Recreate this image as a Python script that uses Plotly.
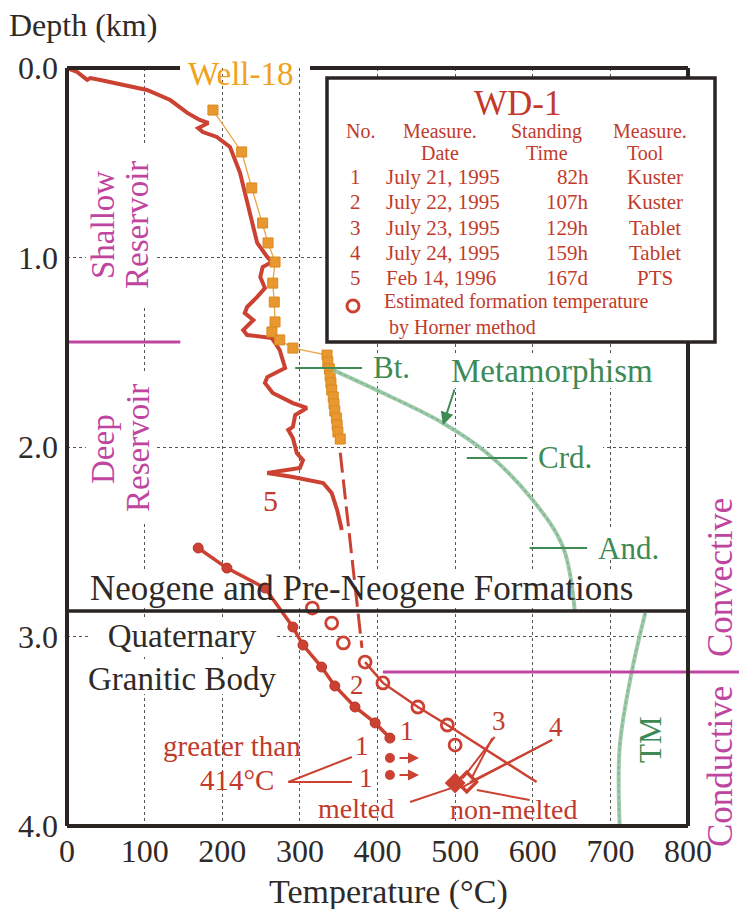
import plotly.graph_objects as go

# ---------------- data ----------------
# WD-1 curve No.5 (PTS, Feb 14 1996): temperature (deg C) vs depth (km)
pts5_temp = [0, 13, 26, 30, 43, 77, 103, 133, 155, 171, 182, 169, 175, 193, 210, 223, 232, 240, 245, 258,
             264, 252, 249, 255, 245, 232, 229, 240, 227, 232, 264, 274, 278, 281, 258, 255, 265, 291, 309, 294,
             291, 285, 291, 296, 304, 300, 258, 291, 330, 341, 348, 354]
pts5_depth = [0, .021, .063, .053, .063, .090, .116, .169, .237, .274, .290, .317, .338, .364, .417, .554, .697, .839, .923, .997,
              1.024, 1.050, 1.103, 1.161, 1.208, 1.261, 1.293, 1.330, 1.383, 1.409, 1.425, 1.488, 1.541, 1.583, 1.631, 1.662, 1.715, 1.768, 1.794, 1.831,
              1.894, 1.910, 1.953, 2.032, 2.069, 2.111, 2.137, 2.158, 2.190, 2.243, 2.332, 2.438]

# Well-18 profile
well18_temp = [188, 225, 238, 252, 259, 268, 265, 267, 268, 264, 274, 291, 335, 336, 338, 339, 340, 341, 343, 344,
               345, 347, 348, 349, 352]
well18_depth = [.222, .443, .633, .818, .923, 1.024, 1.135, 1.235, 1.340, 1.393, 1.435, 1.478, 1.515, 1.551, 1.588,
                1.625, 1.662, 1.699, 1.736, 1.773, 1.810, 1.847, 1.884, 1.921, 1.958]

# dashed extrapolation below No.5
trend_temp = [352, 380]
trend_depth = [2.03, 3.06]

# measurements No.1/No.2 (Kuster) with filled circles
meas_temp = [169, 206, 255, 291, 304, 328, 345, 371, 397, 416]
meas_depth = [2.533, 2.639, 2.744, 2.950, 3.045, 3.161, 3.261, 3.372, 3.456, 3.536]
gt_temp = [416, 416]            # "greater than 414 C"
gt_depth = [3.641, 3.731]

# Horner estimated formation temperatures (open circles)
horner_temp = [316, 341, 356, 384, 407, 452, 490, 500]
horner_depth = [2.850, 2.929, 3.034, 3.135, 3.245, 3.372, 3.467, 3.573]
hline_temp = [384, 407, 452, 490, 605]
hline_depth = [3.135, 3.245, 3.372, 3.467, 3.768]

# Tablet results No.3/No.4 (melted / non-melted)
melted_temp, melted_depth = [500], [3.773]
nonmelted_temp, nonmelted_depth = [515], [3.768]

# leader lines of the labels
leader_temp = [285, 367, None, 285, 367, None, 442, 496, None, 528, 596, None,
               551, 510, None, 548, 522, None, 625, 510, None, 625, 519]
leader_depth = [3.768, 3.636, None, 3.768, 3.768, None, 3.873, 3.799, None, 3.810, 3.863, None,
                3.530, 3.747, None, 3.536, 3.741, None, 3.546, 3.794, None, 3.546, 3.768]

# metamorphism curve and TM curve
meta_temp = [343, 407, 484, 541, 600, 639, 654]
meta_depth = [1.594, 1.715, 1.873, 2.032, 2.280, 2.528, 2.860]
tm_temp = [745, 728, 712, 712]
tm_depth = [2.876, 3.177, 3.583, 4.0]

# mineral isograds
iso_labels = ["Bt.", "Crd.", "And."]
iso_depth = [1.583, 2.058, 2.533]
iso_t0 = [294, 515, 596]
iso_t1 = [380, 593, 670]

# boundaries (depth km)
reservoir_boundary = 1.446
formation_boundary = 2.866
conduct_boundary = 3.187

x_ticks = [0, 100, 200, 300, 400, 500, 600, 700, 800]
y_ticks = [0, 1, 2, 3, 4]
y_ticktext = ["0.0", "1.0", "2.0", "3.0", "4.0"]

legend_rows = [["1", "July 21, 1995", "82h", "Kuster"],
               ["2", "July 22, 1995", "107h", "Kuster"],
               ["3", "July 23, 1995", "129h", "Tablet"],
               ["4", "July 24, 1995", "159h", "Tablet"],
               ["5", "Feb 14, 1996", "167d", "PTS"]]

# ---------------- styling ----------------
W, H = 739, 909
X0, X1, Y0, Y1 = 67, 688, 68, 826      # plot area in pixels
FONT = "Liberation Serif"
RED = "#cc4232"
RED_T = "#c23a2b"
MAG = "#bf45a0"
GRN = "#3d8a55"
GRN_L = "#9dcaa9"
ORG = "#e8982e"
BLK = "#2a2523"
TXT = "#2f2a28"


def tx(px):   # pixel -> temperature
    return (px - X0) / (X1 - X0) * 800


def dy(py):   # pixel -> depth
    return (py - Y0) / (Y1 - Y0) * 4


def pxp(px):
    return (px - X0) / (X1 - X0)


def pyp(py):
    return 1 - (py - Y0) / (Y1 - Y0)


fig = go.Figure()

# curve No.5
fig.add_trace(go.Scatter(x=pts5_temp, y=pts5_depth, mode="lines",
                         line=dict(color=RED, width=4), hoverinfo="skip"))
# dashed extrapolation
fig.add_trace(go.Scatter(x=trend_temp, y=trend_depth, mode="lines",
                         line=dict(color=RED, width=3, dash="20px,7px"), hoverinfo="skip"))
# Well-18
fig.add_trace(go.Scatter(x=well18_temp, y=well18_depth, mode="lines+markers",
                         line=dict(color="#eaa548", width=1.3),
                         marker=dict(symbol="square", size=10, color=ORG, line=dict(color="#d88a20", width=1)),
                         hoverinfo="skip"))
# metamorphism & TM curves
for xs, ys in [(meta_temp, meta_depth), (tm_temp, tm_depth)]:
    fig.add_trace(go.Scatter(x=xs, y=ys, mode="lines", line=dict(color=GRN_L, width=4, shape="spline"),
                             hoverinfo="skip"))
    fig.add_trace(go.Scatter(x=xs, y=ys, mode="lines", line=dict(color="#7fae8c", width=1.2, dash="dot", shape="spline"),
                             hoverinfo="skip"))
# isograd ticks
iso_x, iso_y = [], []
for a, b, d in zip(iso_t0, iso_t1, iso_depth):
    iso_x += [a, b, None]
    iso_y += [d, d, None]
fig.add_trace(go.Scatter(x=iso_x, y=iso_y, mode="lines", line=dict(color=GRN, width=1.8), hoverinfo="skip"))

# measured No.1/2
fig.add_trace(go.Scatter(x=meas_temp, y=meas_depth, mode="lines+markers",
                         line=dict(color=RED, width=3.5),
                         marker=dict(size=10, color=RED, line=dict(color="#b83428", width=1)), hoverinfo="skip"))
fig.add_trace(go.Scatter(x=gt_temp, y=gt_depth, mode="markers",
                         marker=dict(size=10, color=RED), hoverinfo="skip"))
# Horner
fig.add_trace(go.Scatter(x=hline_temp, y=hline_depth, mode="lines",
                         line=dict(color=RED, width=2.5), hoverinfo="skip"))
fig.add_trace(go.Scatter(x=horner_temp, y=horner_depth, mode="markers",
                         marker=dict(symbol="circle-open", size=12, color=RED, line=dict(width=2.8)),
                         hoverinfo="skip"))
# leader lines
fig.add_trace(go.Scatter(x=leader_temp, y=leader_depth, mode="lines",
                         line=dict(color=RED, width=2), hoverinfo="skip"))
# diamonds
fig.add_trace(go.Scatter(x=melted_temp, y=melted_depth, mode="markers",
                         marker=dict(symbol="diamond", size=16, color=RED), hoverinfo="skip"))
fig.add_trace(go.Scatter(x=nonmelted_temp, y=nonmelted_depth, mode="markers",
                         marker=dict(symbol="diamond-open", size=15, color=RED, line=dict(width=3.5)),
                         hoverinfo="skip"))

shapes = []
# masks hiding grid lines behind texts (between grid and traces)
for (a, b, c, d) in [(86, 145, 157, 305), (86, 372, 157, 522), (80, 572, 642, 606),
                     (88, 620, 275, 657), (80, 659, 292, 694), (440, 355, 665, 388),
                     (534, 445, 603, 472), (594, 530, 672, 560), (372, 355, 418, 382)]:
    shapes.append(dict(type="rect", xref="x", yref="y", x0=tx(a), x1=tx(c), y0=dy(b), y1=dy(d),
                       fillcolor="white", line=dict(width=0), layer="between"))

# boundaries
shapes.append(dict(type="line", xref="x", yref="y", x0=0, x1=800, y0=formation_boundary, y1=formation_boundary,
                   line=dict(color=BLK, width=3.5), layer="above"))
shapes.append(dict(type="line", xref="x", yref="y", x0=0, x1=146, y0=reservoir_boundary, y1=reservoir_boundary,
                   line=dict(color=MAG, width=3), layer="above"))
shapes.append(dict(type="line", xref="paper", yref="paper", x0=407 / 800, x1=pxp(739),
                   y0=1 - conduct_boundary / 4, y1=1 - conduct_boundary / 4,
                   line=dict(color=MAG, width=3), layer="above"))
# frame
fw = 4
for (xa, ya, xb, yb) in [(0, 0, 0, 1), (0, 0, 1, 0), (1, 0, 1, 1), (0, 1, pxp(180), 1), (pxp(310), 1, 1, 1)]:
    shapes.append(dict(type="line", xref="paper", yref="paper", x0=xa, y0=ya, x1=xb, y1=yb,
                       line=dict(color=BLK, width=fw), layer="above"))
# legend box
shapes.append(dict(type="rect", xref="paper", yref="paper", x0=pxp(327), x1=pxp(715), y0=pyp(342), y1=pyp(78),
                   fillcolor="white", line=dict(color=BLK, width=3.5), layer="above"))
shapes.append(dict(type="circle", xref="paper", yref="paper", x0=pxp(347), x1=pxp(359), y0=pyp(312), y1=pyp(300),
                   line=dict(color=RED, width=3), layer="above"))

ann = []


def lab(text, px, py, size, color, angle=0, xanchor="center", paper=False, align="center"):
    d = dict(text=text, showarrow=False, textangle=angle, xanchor=xanchor, yanchor="middle", align=align,
             borderpad=0, font=dict(family=FONT, size=size, color=color))
    if paper:
        d.update(xref="paper", yref="paper", x=pxp(px), y=pyp(py))
    else:
        d.update(xref="x", yref="y", x=tx(px), y=dy(py))
    ann.append(d)


# titles
lab("Depth (km)", 8, 25, 32, TXT, xanchor="left", paper=True)
lab("Temperature (°C)", 388, 892, 34, TXT, paper=True)
lab("Well-18", 240, 74, 33, "#f0a21c", paper=True)
# reservoir labels
lab("Shallow", 103, 225, 33, MAG, angle=-90)
lab("Reservoir", 137, 225, 33, MAG, angle=-90)
lab("Deep", 103, 449, 33, MAG, angle=-90)
lab("Reservoir", 138, 448, 33, MAG, angle=-90)
lab("Convective", 720, 578, 35, MAG, angle=-90, paper=True)
lab("Conductive", 720, 767, 35, MAG, angle=-90, paper=True)
# geology
lab("Neogene and Pre-Neogene Formations", 361, 588, 35, TXT)
lab("Quaternary<br>Granitic Body", 182, 657, 33, TXT)
# green labels
for t, dd, t1 in zip(iso_labels, iso_depth, iso_t1):
    ann.append(dict(text=t, xref="x", yref="y", x=t1, y=dd, xshift=10, showarrow=False, xanchor="left",
                    yanchor="middle", borderpad=0, font=dict(family=FONT, size=31, color=GRN)))
lab("Metamorphism", 552, 371, 33, GRN)
lab("TM", 650, 740, 31, GRN, angle=-90)
ann.append(dict(x=tx(443), y=dy(425), xref="x", yref="y", ax=12, ay=-37, showarrow=True,
                arrowhead=2, arrowsize=1.3, arrowwidth=2, arrowcolor=GRN, text=""))
# red labels
RF = 27
lab("5", 270, 500, 30, RED_T)
lab("2", 357, 685, RF, RED_T)
lab("1", 407, 731, RF, RED_T)
lab("1", 362, 746, RF, RED_T)
lab("1", 366, 778, RF, RED_T)
lab("3", 499, 721, RF, RED_T)
lab("4", 556, 727, RF, RED_T)
lab("greater than", 232, 746, 29, RED_T)
lab("414°C", 237, 780, 29, RED_T)
lab("melted", 356, 808, RF + 1, RED_T)
lab("non-melted", 514, 809, RF + 1, RED_T)
for gy in gt_depth:
    ann.append(dict(x=tx(419), y=gy, ax=tx(398), ay=gy, xref="x", yref="y", axref="x", ayref="y",
                    showarrow=True, arrowhead=2, arrowsize=1.1, arrowwidth=2, arrowcolor=RED, text=""))

# legend text
LF = 20
lab("WD-1", 517, 103, 35, RED_T, paper=True)
for t, cx in [("No.", 360), ("Measure.", 440), ("Standing", 546), ("Measure.", 650)]:
    lab(t, cx, 131, LF, RED_T, paper=True)
for t, cx in [("Date", 440), ("Time", 547), ("Tool", 645)]:
    lab(t, cx, 153, LF, RED_T, paper=True)
row_y = [177, 202, 228, 253, 278]
for ry, (no, date, st, tool) in zip(row_y, legend_rows):
    lab(no, 355, ry, LF + 1, RED_T, paper=True)
    lab(date, 385, ry, LF + 1, RED_T, xanchor="left", paper=True)
    lab(st, 590, ry, LF + 1, RED_T, xanchor="right", paper=True)
    lab(tool, 655, ry, LF + 1, RED_T, paper=True)
lab("Estimated formation temperature<br> by Horner method", 383, 314, LF, RED_T, xanchor="left",
    paper=True, align="left")

axis_common = dict(showgrid=True, gridcolor="#555", griddash="dot", gridwidth=1.3, zeroline=False,
                   showline=False, ticks="", tickfont=dict(family=FONT, size=32, color=TXT))
fig.update_layout(
    width=W, height=H, margin=dict(l=X0, r=W - X1, t=Y0, b=H - Y1),
    plot_bgcolor="white", paper_bgcolor="white", showlegend=False,
    font=dict(family=FONT),
    xaxis=dict(range=[0, 800], tickvals=x_ticks, ticklabelstandoff=3, **axis_common),
    yaxis=dict(range=[4, 0], tickvals=y_ticks, ticktext=y_ticktext, ticklabelstandoff=8, **axis_common),
    shapes=shapes, annotations=ann,
)

fig.write_html("out.html")
